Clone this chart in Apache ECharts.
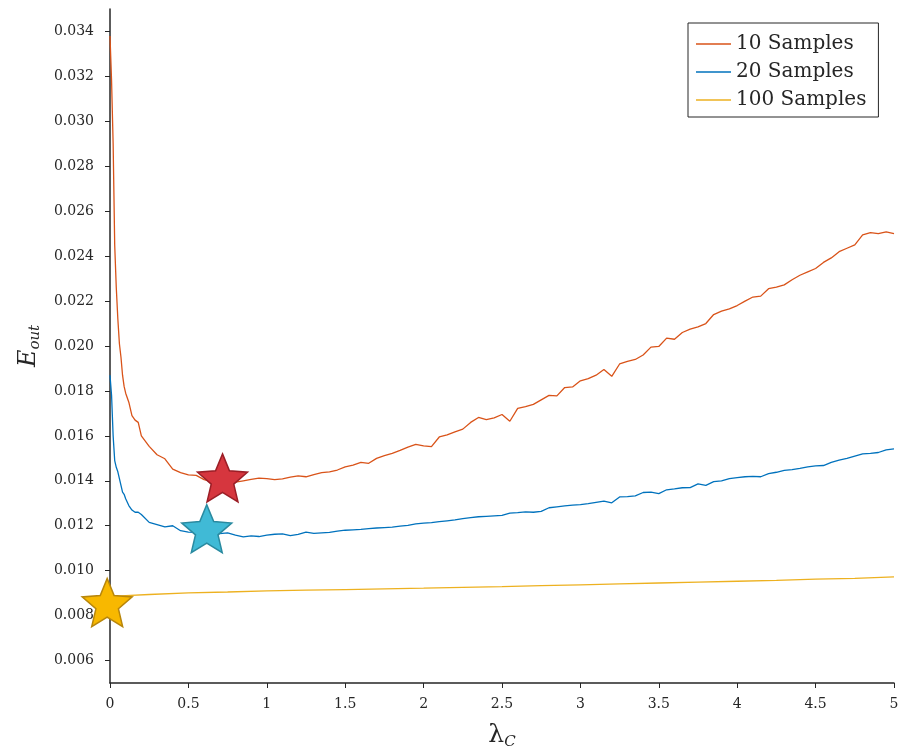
<!DOCTYPE html>
<html><head><meta charset="utf-8">
<script src="https://cdn.jsdelivr.net/npm/echarts@6/dist/echarts.min.js"></script>
<style>html,body{margin:0;padding:0;background:#fff}#c{width:902px;height:752px}</style>
</head><body><div id="c"></div>
<script>
// shared lambda grid for 10 / 20 samples
const lambda = [
  0, 0.01, 0.02, 0.03, 0.04, 0.05, 0.06, 0.07, 0.08, 0.09, 0.10, 0.12, 0.14, 0.16, 0.18, 0.20,
  0.25, 0.30, 0.35, 0.40, 0.45, 0.50, 0.55, 0.60, 0.65, 0.70,
  0.75, 0.80, 0.85, 0.90, 0.95, 1.00, 1.05, 1.10, 1.15, 1.20,
  1.25, 1.30, 1.35, 1.40, 1.45, 1.50, 1.55, 1.60, 1.65, 1.70,
  1.75, 1.80, 1.85, 1.90, 1.95, 2.00, 2.05, 2.10, 2.15, 2.20,
  2.25, 2.30, 2.35, 2.40, 2.45, 2.50, 2.55, 2.60, 2.65, 2.70,
  2.75, 2.80, 2.85, 2.90, 2.95, 3.00, 3.05, 3.10, 3.15, 3.20,
  3.25, 3.30, 3.35, 3.40, 3.45, 3.50, 3.55, 3.60, 3.65, 3.70,
  3.75, 3.80, 3.85, 3.90, 3.95, 4.00, 4.05, 4.10, 4.15, 4.20,
  4.25, 4.30, 4.35, 4.40, 4.45, 4.50, 4.55, 4.60, 4.65, 4.70,
  4.75, 4.80, 4.85, 4.90, 4.95, 5.00
];
const e10 = [
  0.0338, 0.0318, 0.0290, 0.0245, 0.0226, 0.0212, 0.0201, 0.0195, 0.0187, 0.0182, 0.0179, 0.0175, 0.0169, 0.0167, 0.0166, 0.0160,
  0.01553, 0.01516, 0.01498, 0.01452, 0.01436, 0.01426, 0.01424, 0.01405, 0.01396, 0.01392,
  0.01390, 0.01394, 0.01400, 0.01406, 0.01412, 0.01410, 0.01405, 0.01409, 0.01416, 0.01422,
  0.01418, 0.01428, 0.01436, 0.01440, 0.01448, 0.01462, 0.01470, 0.01482, 0.01478, 0.01500,
  0.01512, 0.01522, 0.01535, 0.01550, 0.01562, 0.01555, 0.01552, 0.01595, 0.01604, 0.01618,
  0.01630, 0.01660, 0.01682, 0.01672, 0.01680, 0.01695, 0.01665, 0.01722, 0.01730, 0.01740,
  0.01760, 0.01780, 0.01778, 0.01815, 0.01818, 0.01845, 0.01855, 0.01870, 0.01895, 0.01865,
  0.01920, 0.01932, 0.01940, 0.01960, 0.01995, 0.01998, 0.02035, 0.02030, 0.02060, 0.02075,
  0.02085, 0.02100, 0.02140, 0.02155, 0.02165, 0.02180, 0.02200, 0.02218, 0.02222, 0.02255,
  0.02262, 0.02272, 0.02295, 0.02315, 0.02330, 0.02345, 0.02372, 0.02392, 0.02420, 0.02435,
  0.02450, 0.02495, 0.02505, 0.02500, 0.02508, 0.02500
];
const e20 = [
  0.0187, 0.0178, 0.0160, 0.0149, 0.0146, 0.0144, 0.0141, 0.0138, 0.0135, 0.0134, 0.0132, 0.0129, 0.0127, 0.0126, 0.0126, 0.0125,
  0.01215, 0.01205, 0.01195, 0.01200, 0.01178, 0.01172, 0.01170, 0.01168, 0.01160, 0.01165,
  0.01168, 0.01158, 0.01150, 0.01155, 0.01152, 0.01158, 0.01162, 0.01164, 0.01156, 0.01162,
  0.01172, 0.01166, 0.01168, 0.01170, 0.01176, 0.01180, 0.01182, 0.01184, 0.01187, 0.01190,
  0.01192, 0.01194, 0.01198, 0.01202, 0.01208, 0.01212, 0.01214, 0.01218, 0.01222, 0.01226,
  0.01232, 0.01236, 0.01240, 0.01242, 0.01244, 0.01246, 0.01256, 0.01258, 0.01262, 0.01260,
  0.01264, 0.01280, 0.01284, 0.01288, 0.01292, 0.01294, 0.01298, 0.01304, 0.01310, 0.01302,
  0.01328, 0.01330, 0.01333, 0.01348, 0.01350, 0.01343, 0.01360, 0.01364, 0.01369, 0.01370,
  0.01386, 0.01380, 0.01396, 0.01400, 0.01410, 0.01414, 0.01418, 0.01420, 0.01418, 0.01432,
  0.01438, 0.01446, 0.01450, 0.01455, 0.01462, 0.01466, 0.01468, 0.01482, 0.01492, 0.01500,
  0.01510, 0.01520, 0.01522, 0.01526, 0.01538, 0.01542
];
const lambda100 = [0, 0.05, 0.1, 0.25, 0.5, 0.75, 1, 1.25, 1.5, 1.75, 2, 2.25, 2.5, 2.75, 3, 3.25, 3.5, 3.75, 4, 4.25, 4.5, 4.75, 5];
const e100 = [0.00878, 0.00886, 0.00889, 0.00894, 0.00901, 0.00905, 0.00910, 0.00913, 0.00916, 0.00919, 0.00922, 0.00926,
  0.00929, 0.00933, 0.00937, 0.00941, 0.00945, 0.00949, 0.00953, 0.00957, 0.00962, 0.00966, 0.00972];
// best-lambda markers (stars): 10, 20, 100 samples
const starX = [0.7175, 0.617, -0.018];
const starY = [0.01413, 0.01187, 0.00858];
const seriesNames = ['10 Samples', '20 Samples', '100 Samples'];
const yTicks = [0.006, 0.008, 0.010, 0.012, 0.014, 0.016, 0.018, 0.020, 0.022, 0.024, 0.026, 0.028, 0.030, 0.032, 0.034];

const FONT = 'DejaVu Serif';
const INK = '#262626';
const colors = ['#D95319', '#0072BD', '#EDB120'];
const starFill = ['#D6363E', '#40BAD6', '#F8B800'];
const starEdge = ['#9B1E26', '#2A8AA0', '#B8860B'];
const STAR = 'path://M50,0 L63.2,31.8 L97.55,34.55 L71.4,56.95 L79.39,90.45 L50,72.5 L20.61,90.45 L28.6,56.95 L2.45,34.55 L36.8,31.8 Z';
const zip = (xs, ys) => xs.map((x, i) => [x, ys[i]]);

const chart = echarts.init(document.getElementById('c'), null, {renderer: 'canvas'});
const lineData = [zip(lambda, e10), zip(lambda, e20), zip(lambda100, e100)];
const series = [];
for (let i = 0; i < 3; i++) {
  series.push({
    type: 'line', name: seriesNames[i], data: lineData[i], showSymbol: false, symbol: 'none',
    lineStyle: {width: 1.3, color: colors[i]}, itemStyle: {color: colors[i]}, z: 2, silent: true, animation: false
  });
}
for (let i = 0; i < 3; i++) {
  series.push({
    type: 'scatter', name: 'star' + i, data: [[starX[i], starY[i]]], symbol: STAR, symbolSize: [50, 48],
    itemStyle: {color: starFill[i], borderColor: starEdge[i], borderWidth: 1.5, opacity: 1},
    clip: false, z: 5, silent: true, animation: false
  });
}

chart.setOption({
  animation: false,
  backgroundColor: '#fff',
  grid: {left: 110, right: 8, top: 9, bottom: 69, containLabel: false, outerBoundsMode: 'none'},
  legend: {
    orient: 'vertical', left: 688, top: 23, icon: 'rect', itemWidth: 35, itemHeight: 1.5, itemGap: 6,
    padding: [10, 12, 6, 8], borderColor: INK, borderWidth: 1, backgroundColor: '#fff',
    textStyle: {fontFamily: FONT, fontSize: 20, color: INK, lineHeight: 22},
    data: seriesNames, selectedMode: false
  },
  xAxis: {
    type: 'value', min: 0, max: 5, interval: 0.5,
    axisLine: {show: true, onZero: false, lineStyle: {color: INK, width: 1.5}},
    axisTick: {show: true, length: 5, lineStyle: {color: INK, width: 1}},
    axisLabel: {fontFamily: FONT, fontSize: 14, color: INK, margin: 14},
    splitLine: {show: false},
    name: '{l|λ}{s|C}', nameLocation: 'middle', nameGap: 37,
    nameTextStyle: {
      rich: {
        l: {fontFamily: FONT, fontSize: 25, color: INK, lineHeight: 30, verticalAlign: 'middle'},
        s: {fontFamily: FONT, fontSize: 15, fontStyle: 'italic', color: INK, lineHeight: 14, verticalAlign: 'bottom'}
      }
    }
  },
  yAxis: {
    type: 'value', min: 0.005, max: 0.035,
    axisLine: {show: true, onZero: false, lineStyle: {color: INK, width: 1.5}},
    axisTick: {show: true, length: 5, customValues: yTicks, lineStyle: {color: INK, width: 1}},
    axisLabel: {customValues: yTicks, formatter: v => Number(v).toFixed(3), fontFamily: FONT, fontSize: 14, color: INK, margin: 16},
    splitLine: {show: false},
    name: '{e|E}{s|out}', nameLocation: 'middle', nameGap: 66, nameRotate: 90,
    nameTextStyle: {
      rich: {
        e: {fontFamily: FONT, fontSize: 24, fontStyle: 'italic', color: INK, lineHeight: 28, verticalAlign: 'middle'},
        s: {fontFamily: FONT, fontSize: 15, fontStyle: 'italic', color: INK, lineHeight: 14, verticalAlign: 'bottom'}
      }
    }
  },
  series: series
});
</script>
</body></html>
